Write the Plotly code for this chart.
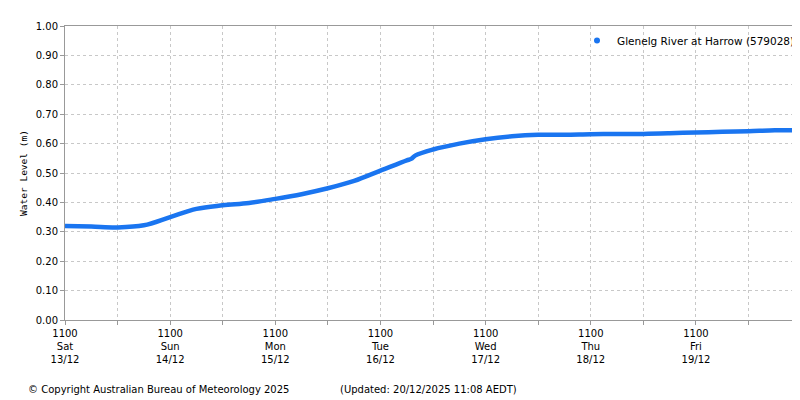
import plotly.graph_objects as go
import pandas as pd

series_name = "Glenelg River at Harrow (579028)"
times = ["2025-12-13 11:00","2025-12-13 17:00","2025-12-13 23:00","2025-12-14 05:00","2025-12-14 11:00",
         "2025-12-14 17:00","2025-12-14 23:00","2025-12-15 05:00","2025-12-15 11:00","2025-12-15 17:00",
         "2025-12-15 23:00","2025-12-16 05:00","2025-12-16 11:00","2025-12-16 17:00","2025-12-16 18:00",
         "2025-12-16 19:00","2025-12-16 23:00","2025-12-17 05:00","2025-12-17 11:00","2025-12-17 17:00",
         "2025-12-17 23:00","2025-12-18 05:00","2025-12-18 11:00","2025-12-18 17:00","2025-12-18 23:00",
         "2025-12-19 05:00","2025-12-19 11:00","2025-12-19 17:00","2025-12-19 23:00","2025-12-20 05:00",
         "2025-12-20 10:45"]
levels = [0.320,0.318,0.315,0.322,0.350,0.378,0.390,0.398,0.412,0.428,0.448,0.473,0.508,0.543,0.548,
          0.560,0.580,0.600,0.615,0.625,0.630,0.630,0.632,0.633,0.633,0.635,0.638,0.640,0.642,0.645,0.645]
tick_times = pd.date_range("2025-12-13 11:00", periods=14, freq="12h")
day_names = ["Sat","Sun","Mon","Tue","Wed","Thu","Fri"]
day_dates = ["13/12","14/12","15/12","16/12","17/12","18/12","19/12"]
tick_text = []
for i in range(14):
    tick_text.append(f"1100<br>{day_names[i//2]}<br>{day_dates[i//2]}" if i % 2 == 0 else "")

blue = "#1a75f0"
fig = go.Figure()
fig.add_trace(go.Scatter(x=pd.to_datetime(times), y=levels, mode="lines",
                         line=dict(color=blue, width=4.5, shape="spline"), showlegend=False))
fig.add_trace(go.Scatter(x=[None], y=[None], mode="markers", marker=dict(color=blue, size=6),
                         name=series_name))
grid = dict(showgrid=True, gridcolor="#c8c8c8", griddash="dot", showline=True, linecolor="#999",
            mirror=True, ticks="outside", ticklen=4, tickcolor="#999", zeroline=False, automargin=False)
fig.update_layout(
    width=800, height=400, paper_bgcolor="white", plot_bgcolor="white",
    margin=dict(l=57, r=8, t=18, b=88, autoexpand=False),
    font=dict(family="DejaVu Sans", size=10, color="black"),
    legend=dict(x=1.0, y=1.0, xanchor="right", yanchor="top", bgcolor="rgba(255,255,255,0)",
                font=dict(size=10.5), itemwidth=30),
    xaxis=dict(range=[pd.Timestamp("2025-12-13 11:00"), pd.Timestamp("2025-12-20 10:45")],
               tickvals=tick_times, ticktext=tick_text, **grid),
    yaxis=dict(range=[0, 1], dtick=0.1, tickformat=".2f",
               title=dict(text="Water Level (m)", font=dict(family="DejaVu Sans Mono", size=9.5), standoff=6),
               **grid),
    annotations=[
        dict(text="© Copyright Australian Bureau of Meteorology 2025", xref="paper", yref="paper",
             x=-0.053, y=-0.235, xanchor="left", yanchor="middle", showarrow=False, font=dict(size=10)),
        dict(text="(Updated: 20/12/2025 11:08 AEDT)", xref="paper", yref="paper",
             x=0.372, y=-0.235, xanchor="left", yanchor="middle", showarrow=False, font=dict(size=10)),
    ],
)
fig.write_html("out.html")
